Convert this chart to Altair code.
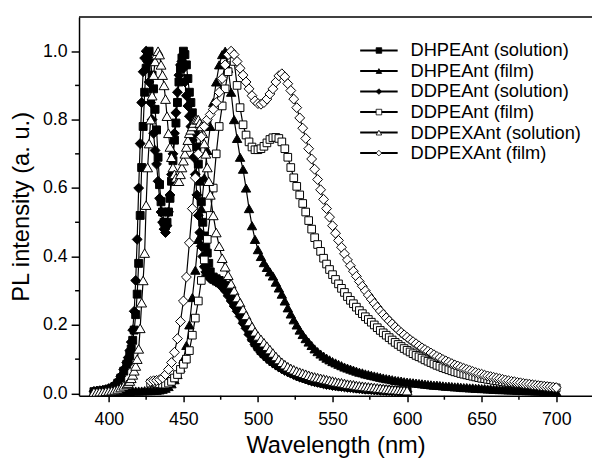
import altair as alt
import pandas as pd

SERIES = ["DHPEAnt (solution)", "DHPEAnt (film)", "DDPEAnt (solution)",
          "DDPEAnt (film)", "DDPEXAnt (solution)", "DDPEXAnt (film)"]
SHAPES = ["square", "triangle-up", "diamond", "square", "triangle-up", "diamond"]
FILLS = ["black", "black", "black", "white", "white", "white"]
SIZES = [64, 90, 100, 60, 100, 100]

# wavelength grids (nm)
WL_SOL = list(range(390, 413, 2)) + list(range(413, 469)) + list(range(470, 601, 2))
WL_FILM_B = list(range(400, 701, 2))
WL_FILM = list(range(428, 701, 2))

DHPEANT_SOL = [
    0.005, 0.006, 0.007, 0.008, 0.010, 0.012, 0.015, 0.020, 0.030, 0.045, 0.065, 0.085,
    0.094, 0.11, 0.13, 0.155, 0.185, 0.23, 0.29, 0.38, 0.52, 0.66,
    0.78, 0.88, 0.95, 0.99, 1.0, 0.97, 0.93, 0.89, 0.83, 0.77,
    0.69, 0.61, 0.56, 0.53, 0.50, 0.49, 0.50, 0.53, 0.57, 0.62,
    0.68, 0.74, 0.79, 0.85, 0.91, 0.95, 0.98, 1.0, 0.99, 0.96,
    0.92, 0.88, 0.85, 0.82, 0.79, 0.76, 0.72, 0.67, 0.62, 0.56,
    0.50, 0.46, 0.43, 0.41, 0.38, 0.355,
    0.34, 0.335, 0.33, 0.325, 0.315, 0.30, 0.285, 0.27, 0.255, 0.24,
    0.22, 0.20, 0.18, 0.163, 0.148, 0.136, 0.125, 0.116, 0.108, 0.10,
    0.093, 0.087, 0.081, 0.076, 0.071, 0.067, 0.062, 0.058, 0.054, 0.05,
    0.047, 0.044, 0.041, 0.038, 0.036, 0.034, 0.032, 0.030, 0.028, 0.026,
    0.025, 0.023, 0.022, 0.021, 0.02, 0.019, 0.018, 0.017, 0.016, 0.015,
    0.014, 0.013, 0.013, 0.012, 0.011, 0.011, 0.01, 0.01, 0.009, 0.009,
    0.008, 0.008, 0.007, 0.007, 0.006, 0.006,
]

DDPEANT_SOL = [
    0.006, 0.007, 0.008, 0.009, 0.011, 0.014, 0.018, 0.024, 0.035, 0.05, 0.07, 0.09,
    0.105, 0.125, 0.15, 0.185, 0.24, 0.33, 0.45, 0.6, 0.73, 0.85,
    0.94, 0.98, 1.0, 0.97, 0.91, 0.85, 0.8, 0.76, 0.71, 0.67,
    0.62, 0.57, 0.53, 0.50, 0.48, 0.47, 0.49, 0.53, 0.58, 0.64,
    0.70, 0.76, 0.82, 0.88, 0.93, 0.96, 0.97, 0.95, 0.91, 0.87,
    0.84, 0.81, 0.78, 0.74, 0.69, 0.64, 0.58, 0.52, 0.47, 0.43,
    0.40, 0.37, 0.355, 0.345, 0.34, 0.335,
    0.33, 0.325, 0.32, 0.31, 0.30, 0.285, 0.27, 0.255, 0.24, 0.225,
    0.205, 0.19, 0.172, 0.157, 0.143, 0.131, 0.12, 0.111, 0.103, 0.096,
    0.089, 0.083, 0.077, 0.072, 0.067, 0.063, 0.059, 0.055, 0.051, 0.048,
    0.045, 0.042, 0.039, 0.036, 0.034, 0.032, 0.03, 0.028, 0.026, 0.025,
    0.023, 0.022, 0.021, 0.02, 0.019, 0.018, 0.017, 0.016, 0.015, 0.014,
    0.013, 0.012, 0.012, 0.011, 0.01, 0.01, 0.009, 0.009, 0.008, 0.008,
    0.007, 0.007, 0.006, 0.006, 0.005, 0.005,
]

DDPEXANT_SOL = [
    0.004, 0.004, 0.005, 0.005, 0.006, 0.007, 0.008, 0.010, 0.013, 0.017, 0.022, 0.026,
    0.03, 0.036, 0.044, 0.054, 0.066, 0.08, 0.1, 0.13, 0.19, 0.265,
    0.33, 0.41, 0.55, 0.66, 0.73, 0.8, 0.87, 0.93, 0.97, 0.99,
    1.0, 0.99, 0.96, 0.93, 0.9, 0.86, 0.81, 0.76, 0.72, 0.69,
    0.66, 0.64, 0.63, 0.62, 0.62, 0.64, 0.66, 0.68, 0.70, 0.72,
    0.74, 0.76, 0.77, 0.78, 0.79, 0.8, 0.8, 0.8, 0.79, 0.78,
    0.76, 0.73, 0.70, 0.66, 0.62, 0.58,
    0.52, 0.47, 0.43, 0.395, 0.37, 0.345, 0.32, 0.30, 0.28, 0.265,
    0.245, 0.228, 0.21, 0.195, 0.18, 0.168, 0.158, 0.148, 0.138, 0.128,
    0.118, 0.108, 0.099, 0.091, 0.084, 0.078, 0.073, 0.069, 0.065, 0.062,
    0.059, 0.056, 0.053, 0.05, 0.048, 0.046, 0.044, 0.042, 0.04, 0.038,
    0.036, 0.034, 0.032, 0.031, 0.029, 0.027, 0.026, 0.025, 0.023, 0.022,
    0.021, 0.02, 0.019, 0.018, 0.017, 0.016, 0.015, 0.014, 0.013, 0.012,
    0.011, 0.011, 0.01, 0.009, 0.009, 0.008,
]

DHPEANT_FILM = [
    0.004, 0.005, 0.005, 0.005, 0.006, 0.006, 0.006, 0.006, 0.007, 0.007,
    0.007, 0.007, 0.008, 0.008, 0.008, 0.009, 0.009, 0.010, 0.012, 0.015,
    0.02, 0.028, 0.04, 0.055, 0.075, 0.10, 0.14, 0.20, 0.28, 0.36,
    0.45, 0.54, 0.63, 0.71, 0.78, 0.85, 0.91, 0.96, 0.99, 1.0,
    0.95, 0.88, 0.80, 0.745, 0.69, 0.655, 0.60, 0.54, 0.49, 0.45,
    0.42, 0.40, 0.382, 0.368, 0.355, 0.343, 0.325, 0.308, 0.29, 0.27,
    0.25, 0.232, 0.215, 0.2, 0.185, 0.172, 0.16, 0.15, 0.14, 0.13,
    0.122, 0.115, 0.109, 0.103, 0.098, 0.093, 0.089, 0.085, 0.081, 0.077,
    0.074, 0.071, 0.068, 0.065, 0.062, 0.06, 0.057, 0.055, 0.053, 0.051,
    0.049, 0.047, 0.045, 0.043, 0.042, 0.04, 0.038, 0.037, 0.036, 0.034,
    0.033, 0.032, 0.031, 0.03, 0.029, 0.028, 0.027, 0.026, 0.025, 0.024,
    0.024, 0.023, 0.022, 0.021, 0.021, 0.02, 0.019, 0.019, 0.018, 0.017,
    0.017, 0.016, 0.016, 0.015, 0.015, 0.014, 0.014, 0.013, 0.013, 0.012,
    0.012, 0.011, 0.011, 0.011, 0.01, 0.01, 0.01, 0.009, 0.009, 0.009,
    0.008, 0.008, 0.008, 0.007, 0.007, 0.007, 0.006, 0.006, 0.006, 0.005,
    0.005,
]

DDPEANT_FILM = [
    0.03, 0.032, 0.03, 0.028, 0.027, 0.027, 0.03, 0.035, 0.045, 0.055,
    0.07, 0.085, 0.10, 0.125, 0.17, 0.22, 0.27, 0.33, 0.39, 0.45,
    0.52, 0.6, 0.7, 0.78, 0.84, 0.89, 0.94, 0.98, 0.97, 0.9,
    0.835, 0.785, 0.755, 0.735, 0.72, 0.712, 0.712, 0.715, 0.722, 0.732,
    0.742, 0.747, 0.748, 0.745, 0.735, 0.715, 0.69, 0.66, 0.63, 0.605,
    0.58, 0.555, 0.53, 0.505, 0.48, 0.455, 0.435, 0.415, 0.395, 0.378,
    0.362, 0.347, 0.333, 0.32, 0.307, 0.295, 0.283, 0.272, 0.262, 0.252,
    0.242, 0.233, 0.224, 0.216, 0.208, 0.2, 0.192, 0.184, 0.177, 0.17,
    0.163, 0.156, 0.149, 0.143, 0.137, 0.131, 0.126, 0.121, 0.116, 0.111,
    0.107, 0.103, 0.098, 0.094, 0.09, 0.086, 0.082, 0.079, 0.075, 0.072,
    0.069, 0.066, 0.063, 0.061, 0.058, 0.056, 0.054, 0.052, 0.05, 0.048,
    0.046, 0.044, 0.043, 0.041, 0.04, 0.038, 0.037, 0.036, 0.034, 0.033,
    0.032, 0.031, 0.03, 0.029, 0.028, 0.027, 0.026, 0.025, 0.024, 0.023,
    0.022, 0.021, 0.02, 0.019, 0.018, 0.017, 0.016,
]

DDPEXANT_FILM = [
    0.035, 0.037, 0.038, 0.04, 0.045, 0.055, 0.07, 0.09, 0.12, 0.16,
    0.21, 0.27, 0.34, 0.44, 0.54, 0.63, 0.70, 0.75, 0.78, 0.80,
    0.815, 0.83, 0.85, 0.88, 0.92, 0.96, 0.99, 1.0, 0.99, 0.97,
    0.95, 0.93, 0.91, 0.89, 0.87, 0.855, 0.847, 0.845, 0.85, 0.86,
    0.875, 0.89, 0.91, 0.928, 0.934, 0.925, 0.905, 0.885, 0.86, 0.835,
    0.805, 0.775, 0.745, 0.715, 0.685, 0.655, 0.625, 0.595, 0.567, 0.54,
    0.515, 0.49, 0.468, 0.447, 0.427, 0.408, 0.39, 0.373, 0.357, 0.342,
    0.327, 0.313, 0.3, 0.287, 0.275, 0.263, 0.252, 0.241, 0.231, 0.221,
    0.212, 0.203, 0.194, 0.186, 0.178, 0.171, 0.164, 0.157, 0.151, 0.145,
    0.139, 0.133, 0.128, 0.123, 0.118, 0.113, 0.108, 0.104, 0.099, 0.095,
    0.091, 0.087, 0.083, 0.08, 0.076, 0.073, 0.07, 0.067, 0.064, 0.061,
    0.058, 0.056, 0.053, 0.051, 0.049, 0.047, 0.045, 0.043, 0.041, 0.039,
    0.037, 0.035, 0.034, 0.032, 0.031, 0.029, 0.028, 0.027, 0.025, 0.024,
    0.023, 0.022, 0.021, 0.02, 0.019, 0.018, 0.017,
]

X_TICKS = [400, 450, 500, 550, 600, 650, 700]
X_MINOR = [425, 475, 525, 575, 625, 675]
Y_TICKS = [0.0, 0.2, 0.4, 0.6, 0.8, 1.0]
Y_MINOR = [0.1, 0.3, 0.5, 0.7, 0.9]

FONT = "Liberation Sans"
W, H = 520, 384

grids = [WL_SOL, WL_FILM_B, WL_SOL, WL_FILM, WL_SOL, WL_FILM]
vals = [DHPEANT_SOL, DHPEANT_FILM, DDPEANT_SOL, DDPEANT_FILM, DDPEXANT_SOL, DDPEXANT_FILM]
frames = []
for i, (name, wl, vs) in enumerate(zip(SERIES, grids, vals)):
    assert len(wl) == len(vs), (name, len(wl), len(vs))
    frames.append(pd.DataFrame({"series": name, "k": i, "wl": wl, "pl": vs}))

xscale = alt.Scale(domain=[380, 724], nice=False, zero=False)
yscale = alt.Scale(domain=[-0.007, 1.1], nice=False, zero=False)
shape_scale = alt.Scale(domain=SERIES, range=SHAPES)
fill_scale = alt.Scale(domain=SERIES, range=FILLS)

X = alt.X("wl:Q", scale=xscale,
          axis=alt.Axis(values=X_TICKS, title="Wavelength (nm)", grid=False,
                        tickSize=6, labelPadding=9, titlePadding=6))
Y = alt.Y("pl:Q", scale=yscale,
          axis=alt.Axis(values=Y_TICKS, format=".1f", title="PL intensity (a. u.)",
                        grid=False, tickSize=8, labelPadding=4, titlePadding=9))

layers = []
for i, f in enumerate(frames):
    base = alt.Chart(f)
    layers.append(base.mark_line(color="black", strokeWidth=1.2).encode(
        x=X if i == 0 else "wl:Q", y=Y if i == 0 else "pl:Q"))
    layers.append(base.mark_point(opacity=1, stroke="black", strokeWidth=1,
                                  size=SIZES[i]).encode(
        x="wl:Q", y="pl:Q",
        shape=alt.Shape("series:N", scale=shape_scale, legend=None),
        fill=alt.Fill("series:N", scale=fill_scale, legend=None)))

xminor = alt.Chart(pd.DataFrame({"t": X_MINOR})).mark_rule(color="black", strokeWidth=1.5).encode(
    x="t:Q", y=alt.value(H), y2=alt.value(H + 4))
yminor = alt.Chart(pd.DataFrame({"t": Y_MINOR})).mark_rule(color="black", strokeWidth=1.5).encode(
    y="t:Q", x=alt.value(-4), x2=alt.value(0))
topline = alt.Chart(pd.DataFrame({"a": [0]})).mark_rule(color="black", strokeWidth=1.5).encode(
    x=alt.value(0), x2=alt.value(W), y=alt.value(0))

main = alt.layer(*layers, xminor, yminor, topline)

leg_df = pd.DataFrame({"series": SERIES})
LY = alt.Y("series:N", scale=alt.Scale(type="point", domain=SERIES, range=[34, 138], padding=0),
           axis=None)
leg_line = alt.Chart(leg_df).mark_rule(color="black", strokeWidth=2).encode(
    x=alt.value(285), x2=alt.value(323), y=LY)
leg_pt = alt.Chart(leg_df).mark_point(opacity=1, stroke="black", strokeWidth=0.8, size=32).encode(
    x=alt.value(304), y=LY,
    shape=alt.Shape("series:N", scale=shape_scale, legend=None),
    fill=alt.Fill("series:N", scale=fill_scale, legend=None))
leg_txt = alt.Chart(leg_df).mark_text(align="left", baseline="middle", fontSize=18.5,
                                      font=FONT, color="black").encode(
    x=alt.value(336), y=LY, text="series:N")
legend = alt.layer(leg_line, leg_pt, leg_txt)

chart = alt.layer(main, legend).resolve_scale(y="independent").properties(
    width=W, height=H,
    autosize=alt.AutoSizeParams(type="none"),
    padding={"left": 72, "top": 6, "right": 0, "bottom": 61},
    background="white",
).configure_view(stroke=None).configure_axis(
    labelFont=FONT, titleFont=FONT, labelFontSize=18, titleFontSize=24,
    labelColor="black", titleColor="black", titleFontWeight="normal",
    domainColor="black", domainWidth=1.5, tickColor="black", tickWidth=1.5,
    labelFlush=False, labelOverlap=False,
)

chart.save("out.html", embed_options={"renderer": "svg", "actions": False})
